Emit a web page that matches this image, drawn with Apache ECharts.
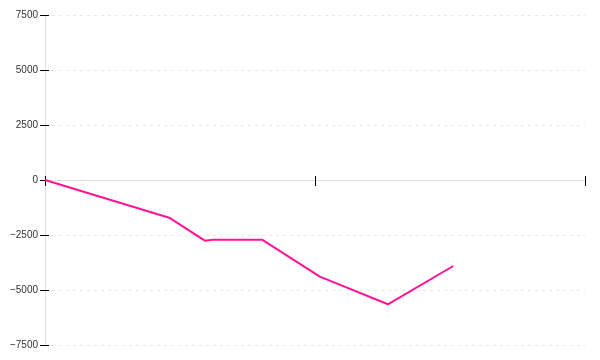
<!DOCTYPE html>
<html>
<head>
<meta charset="utf-8">
<script src="https://cdn.jsdelivr.net/npm/echarts@6/dist/echarts.min.js"></script>
<style>html,body{margin:0;padding:0;background:#fff}#c{width:600px;height:360px}</style>
</head>
<body>
<div id="c"></div>
<script>
var xValues = [0, 23.0, 29.6, 31.1, 40.2, 50.9, 63.5, 75.6];
var yValues = [0, -1714, -2759, -2714, -2714, -4395, -5650, -3909];
var yTicks = [-7500, -5000, -2500, 0, 2500, 5000, 7500];

var chart = echarts.init(document.getElementById('c'), null, {renderer: 'canvas'});
var pts = xValues.map(function (x, i) { return [x, yValues[i]]; });
var yMin = yTicks[0], yMax = yTicks[yTicks.length - 1], yInt = yTicks[1] - yTicks[0];
chart.setOption({
  animation: false,
  grid: {left: 45, right: 15, top: 15, bottom: 15, containLabel: false},
  xAxis: [{
    type: 'value', min: 0, max: 100, interval: 50,
    axisLine: {show: true, onZero: true, lineStyle: {color: '#dddddd', width: 1}},
    axisTick: {show: true, length: 6, lineStyle: {color: '#000', width: 1}},
    axisLabel: {show: false},
    splitLine: {show: false}
  }, {
    type: 'value', min: 0, max: 100, interval: 50, position: 'bottom',
    axisLine: {show: false, onZero: true},
    axisTick: {show: true, inside: true, length: 4, lineStyle: {color: '#000', width: 1}},
    axisLabel: {show: false},
    splitLine: {show: false}
  }],
  yAxis: [{
    type: 'value', min: yMin, max: yMax, interval: yInt,
    axisLine: {show: true, onZero: false, lineStyle: {color: '#dddddd', width: 1}},
    axisTick: {show: true, length: 5, lineStyle: {color: '#000', width: 1}},
    axisLabel: {
      margin: 7, color: '#333', fontSize: 10, fontFamily: 'Liberation Sans, Arial, sans-serif',
      formatter: function (v) { return String(v).replace('-', '\u2212'); }
    },
    splitLine: {show: true, lineStyle: {color: '#e8e8e8', type: [3, 4], width: 1}}
  }, {
    type: 'value', min: yMin, max: yMax, interval: yInt, position: 'left',
    axisLine: {show: false, onZero: false},
    axisTick: {show: true, inside: true, length: 4, lineStyle: {color: '#000', width: 1}},
    axisLabel: {show: false},
    splitLine: {show: false}
  }],
  series: [{
    type: 'line', data: pts, showSymbol: false, symbol: 'none',
    lineStyle: {color: '#ff1493', width: 2},
    itemStyle: {color: '#ff1493'}
  }]
});
</script>
</body>
</html>
